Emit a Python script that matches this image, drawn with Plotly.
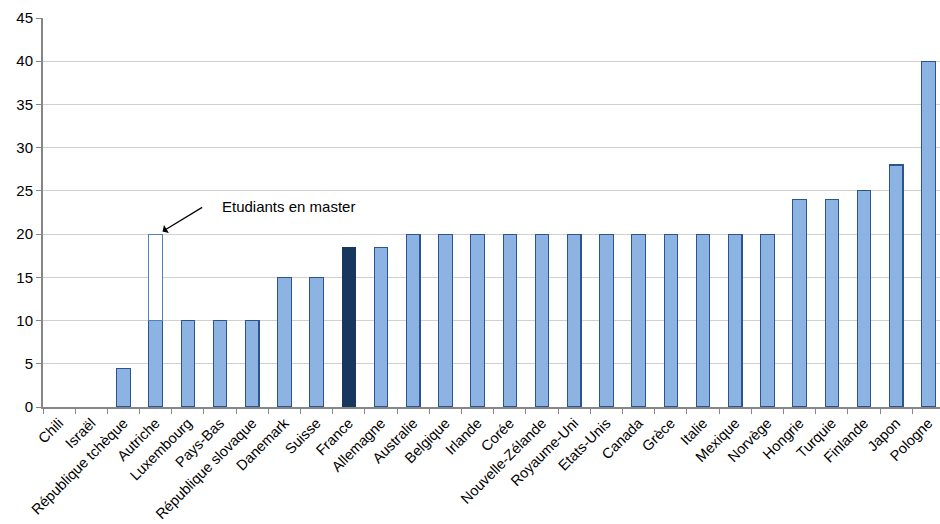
import plotly.graph_objects as go

countries = ["Chili", "Israël", "République tchèque", "Autriche", "Luxembourg", "Pays-Bas",
             "République slovaque", "Danemark", "Suisse", "France", "Allemagne", "Australie",
             "Belgique", "Irlande", "Corée", "Nouvelle-Zélande", "Royaume-Uni", "Etats-Unis",
             "Canada", "Grèce", "Italie", "Mexique", "Norvège", "Hongrie", "Turquie",
             "Finlande", "Japon", "Pologne"]
values = [0, 0, 4.5, 10, 10, 10, 10, 15, 15, 18.5, 18.5, 20, 20, 20, 20, 20, 20, 20,
          20, 20, 20, 20, 20, 24, 24, 25, 28, 40]
master_extra = [None, None, None, 10] + [None] * 24
highlight = "France"
y_ticks = [0, 5, 10, 15, 20, 25, 30, 35, 40, 45]

fill = ["#17375E" if c == highlight else "#8DB3E2" for c in countries]
line = ["#17375E" if c == highlight else "#2C5490" for c in countries]
lw = [0 if v == 0 else 1.1 for v in values]

fig = go.Figure()
fig.add_trace(go.Bar(x=countries, y=values, width=0.42,
                     marker=dict(color=fill, line=dict(color=line, width=lw)),
                     showlegend=False))
fig.add_trace(go.Bar(x=countries, y=master_extra, width=0.42,
                     marker=dict(color="white", line=dict(color="#4F81BD", width=1)),
                     showlegend=False))

idx = countries.index("Autriche")
fig.add_annotation(x=idx + 0.21, y=20.3, xref="x", yref="y", text="",
                   showarrow=True, arrowhead=1, arrowsize=1.3, arrowwidth=1.2,
                   arrowcolor="black", axref="x", ayref="y", ax=idx + 1.49, ay=23.2)
fig.add_annotation(x=idx + 2.0, y=23.2, xref="x", yref="y", text="Etudiants en master",
                   showarrow=False, xanchor="left", yanchor="middle",
                   font=dict(family="Liberation Sans, Arial", size=15, color="black"))

fig.update_layout(
    width=940, height=524, barmode="stack", bargap=0.58,
    paper_bgcolor="white", plot_bgcolor="white",
    margin=dict(l=43, r=0, t=18, b=117),
    font=dict(family="Liberation Sans, Arial", color="black"),
)
fig.update_xaxes(type="category", range=[-0.5, 27.36], tickangle=-45,
                 tickfont=dict(size=14.5), showline=True, linecolor="#868686", linewidth=2,
                 ticks="outside", tickson="boundaries", ticklen=5, tickcolor="#868686",
                 showgrid=False)
fig.update_yaxes(range=[0, 45], tickvals=y_ticks, tickfont=dict(size=15),
                 showline=True, linecolor="#868686", linewidth=2,
                 ticks="outside", ticklen=5, tickcolor="#868686",
                 gridcolor="#D0D0D0", gridwidth=1.3, zeroline=False)

fig.write_html("out.html")
